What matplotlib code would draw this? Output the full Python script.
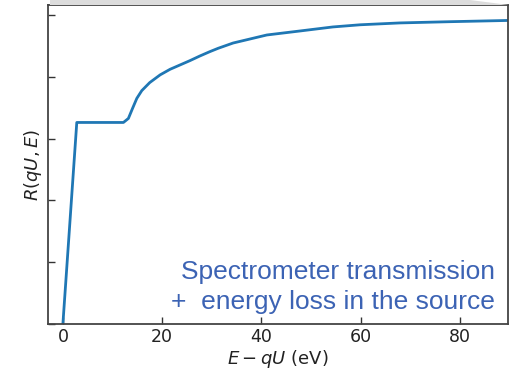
import matplotlib
matplotlib.use("Agg")
import matplotlib.pyplot as plt
from matplotlib.patches import Polygon

# Data
energy = [0.0, 2.8, 9.5, 12.2, 13.2, 14.05, 14.9, 15.9, 17.5, 19.6, 21.6, 23.6,
          25.6, 27.6, 29.6, 31.3, 34.3, 41.1, 47.8, 54.4, 59.9, 67.9, 78.0, 89.7]
response = [0.0, 0.652, 0.652, 0.652, 0.665, 0.698, 0.730, 0.755, 0.781, 0.806,
            0.824, 0.838, 0.852, 0.867, 0.881, 0.892, 0.909, 0.935, 0.948, 0.961,
            0.968, 0.974, 0.978, 0.982]
xticks = [0, 20, 40, 60, 80]
yticks = [0.0, 0.2, 0.4, 0.6, 0.8, 1.0]

fig = plt.figure(figsize=(5.09, 3.69), dpi=100)
ax = fig.add_axes([48/509, 1-324/369, 460/509, 319/369])

# light grey band at the top (screenshot artefact)
fig.patches.append(Polygon([[50/509, 1.0], [50/509, 1-5/369], [509/509, 1-5/369],
                            [470/509, 1.0]], closed=True, transform=fig.transFigure,
                           facecolor="#dcdcdc", edgecolor="none", zorder=0))

ax.plot(energy, response, color="#1f77b4", lw=2.0)
ax.set_xlim(-3, 89.7)
ax.set_ylim(0, 1.032)
ax.set_xticks(xticks)
ax.set_yticks(yticks)
ax.set_yticklabels([])
ax.tick_params(direction="in", length=5, width=1, colors="#333333", labelsize=12.5,
               labelcolor="#222222", pad=3)
for s in ax.spines.values():
    s.set_linewidth(1.3)
    s.set_color("#444444")

ax.set_xlabel("$E - qU$ (eV)", fontsize=13, labelpad=1, color="#222222")
ax.set_ylabel("$R(qU, E)$", fontsize=13, labelpad=0, color="#222222")

fig.text(495/509, 1-308.5/369, "Spectrometer transmission\n+  energy loss in the source",
         ha="right", va="baseline", fontsize=19, color="#3c63b4",
         family="Liberation Sans", linespacing=1.27)

fig.savefig("out.png", dpi=100)
